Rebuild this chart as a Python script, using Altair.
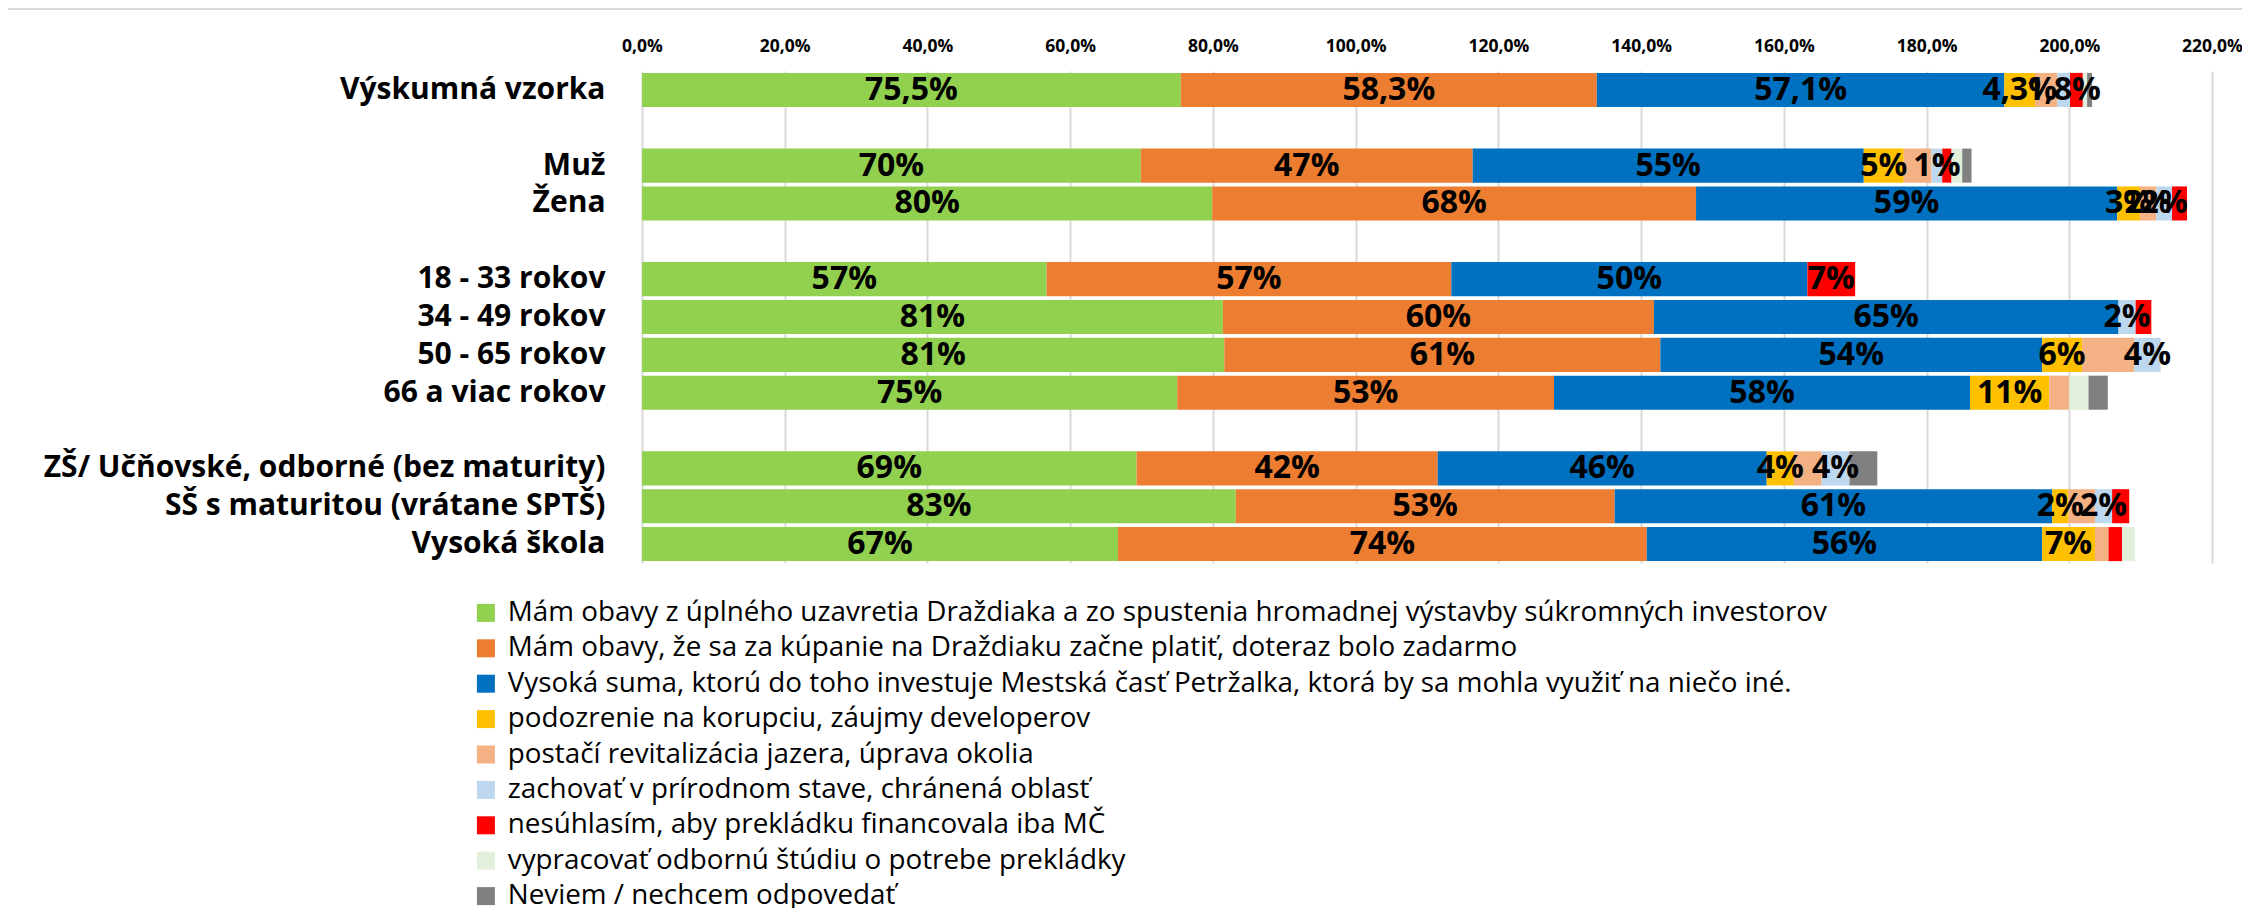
import altair as alt
import pandas as pd

rows = ["Výskumná vzorka", " ", "Muž", "Žena", "  ", "18 - 33 rokov", "34 - 49 rokov",
        "50 - 65 rokov", "66 a viac rokov", "   ",
        "ZŠ/ Učňovské, odborné (bez maturity)", "SŠ s maturitou (vrátane SPTŠ)", "Vysoká škola"]
groups = [r for r in rows if r.strip()]

series = [
    "Mám obavy z úplného uzavretia Draždiaka a zo spustenia hromadnej výstavby súkromných investorov",
    "Mám obavy, že sa za kúpanie na Draždiaku začne platiť, doteraz bolo zadarmo",
    "Vysoká suma, ktorú do toho investuje Mestská časť Petržalka, ktorá by sa mohla využiť na niečo iné.",
    "podozrenie na korupciu, záujmy developerov",
    "postačí revitalizácia jazera, úprava okolia",
    "zachovať v prírodnom stave, chránená oblasť",
    "nesúhlasím, aby prekládku financovala iba MČ",
    "vypracovať odbornú štúdiu o potrebe prekládky",
    "Neviem / nechcem odpovedať",
]
colors = ["#92D050", "#ED7D31", "#0070C0", "#FFC000", "#F4B183",
          "#BDD7EE", "#FF0000", "#E2EFDA", "#808080"]

# values (%) per series, in order of `groups`
v_green = [75.5, 69.9, 79.9, 56.7, 81.4, 81.6, 75.0, 69.3, 83.2, 66.7]
v_orange = [58.3, 46.5, 67.8, 56.7, 60.4, 61.1, 52.8, 42.2, 53.1, 74.1]
v_blue = [57.1, 54.8, 59.0, 49.9, 65.1, 53.5, 58.3, 46.1, 61.3, 55.4]
v_yellow = [4.3, 5.6, 3.2, 0, 0, 5.6, 11.1, 3.8, 2.3, 7.4]
v_peach = [3.1, 3.9, 2.3, 0, 0, 7.3, 2.8, 3.9, 3.7, 1.9]
v_lightblue = [1.8, 1.5, 2.2, 0, 2.4, 3.7, 0, 3.9, 2.4, 0]
v_red = [1.8, 1.3, 2.1, 6.7, 2.2, 0, 0, 0, 2.4, 1.9]
v_palegreen = [0.6, 1.5, 0, 0, 0, 0, 2.7, 0, 0, 1.8]
v_gray = [0.7, 1.3, 0, 0, 0, 0, 2.7, 3.9, 0, 0]

# data labels shown in the chart
l_green = ["75,5%", "70%", "80%", "57%", "81%", "81%", "75%", "69%", "83%", "67%"]
l_orange = ["58,3%", "47%", "68%", "57%", "60%", "61%", "53%", "42%", "53%", "74%"]
l_blue = ["57,1%", "55%", "59%", "50%", "65%", "54%", "58%", "46%", "61%", "56%"]
l_yellow = ["4,3%", "5%", "3%", "", "", "6%", "11%", "4%", "2%", "7%"]
l_peach = ["", "", "2%", "", "", "", "", "", "", ""]
l_lightblue = ["1,8%", "1%", "2%", "", "2%", "4%", "", "4%", "2%", ""]
l_red = ["", "", "", "7%", "", "", "", "", "", ""]
l_none = [""] * 10

values = [v_green, v_orange, v_blue, v_yellow, v_peach, v_lightblue, v_red, v_palegreen, v_gray]
labels = [l_green, l_orange, l_blue, l_yellow, l_peach, l_lightblue, l_red, l_none, l_none]

recs = []
for si, (s, vals, labs) in enumerate(zip(series, values, labels)):
    for g, v, lb in zip(groups, vals, labs):
        if v > 0:
            recs.append({"row": g, "series": s, "idx": si, "value": v, "label": lb})
df = pd.DataFrame(recs)

FONT = "Open Sans"
W, H = 1570, 492

yenc = alt.Y("row:N", sort=rows,
             scale=alt.Scale(domain=rows, paddingInner=0.1, paddingOuter=0.05),
             axis=alt.Axis(title=None, labelFont=FONT, labelFontSize=30, labelFontWeight="bold",
                           labelColor="black", ticks=False, domain=False, labelPadding=37,
                           labelLimit=1000, grid=False))

base = alt.Chart(df).transform_stack(
    stack="value", groupby=["row"], sort=[alt.SortField("idx", order="ascending")],
    as_=["x0", "x1"]
).transform_calculate(mid="(datum.x0 + datum.x1) / 2")

bars = base.mark_bar().encode(
    x=alt.X("x0:Q", scale=alt.Scale(domain=[0, 220], nice=False, zero=True),
            axis=alt.Axis(orient="top", title=None, values=list(range(0, 221, 20)),
                          labelExpr="replace(format(datum.value, '.1f'), '.', ',') + '%'",
                          labelFont=FONT, labelFontSize=17.5, labelFontWeight="bold",
                          labelColor="black", ticks=False, domain=False, labelPadding=16,
                          labelFlush=False,
                          grid=True, gridColor="#d9d9d9", gridWidth=2)),
    x2="x1:Q",
    y=yenc,
    color=alt.Color("series:N", scale=alt.Scale(domain=series, range=colors),
                    legend=alt.Legend(orient="none", legendX=-170, legendY=528, title=None,
                                      symbolType="square", symbolSize=324, symbolStrokeWidth=0,
                                      labelFont=FONT, labelFontSize=27.8, labelColor="black",
                                      rowPadding=6.4, labelOffset=8, padding=0, labelLimit=2000,
                                      direction="vertical", columns=1)),
)

text = base.transform_filter("datum.label != ''").mark_text(
    font=FONT, fontSize=32, fontWeight="bold", color="black", baseline="middle", align="center"
).encode(x="mid:Q", y=yenc, text="label:N")

border = alt.Chart(alt.Data(values=[{}])).mark_rule(color="#d9d9d9", strokeWidth=2).encode(
    x=alt.value(-640), x2=alt.value(W + 40), y=alt.value(-62))

chart = alt.layer(bars, text, border).properties(
    width=W, height=H,
    autosize=alt.AutoSizeParams(type="none"),
    padding={"left": 634, "top": 63, "right": 30, "bottom": 345},
).configure_view(stroke=None)

chart.save("out.html", embed_options={"renderer": "svg", "actions": False})
